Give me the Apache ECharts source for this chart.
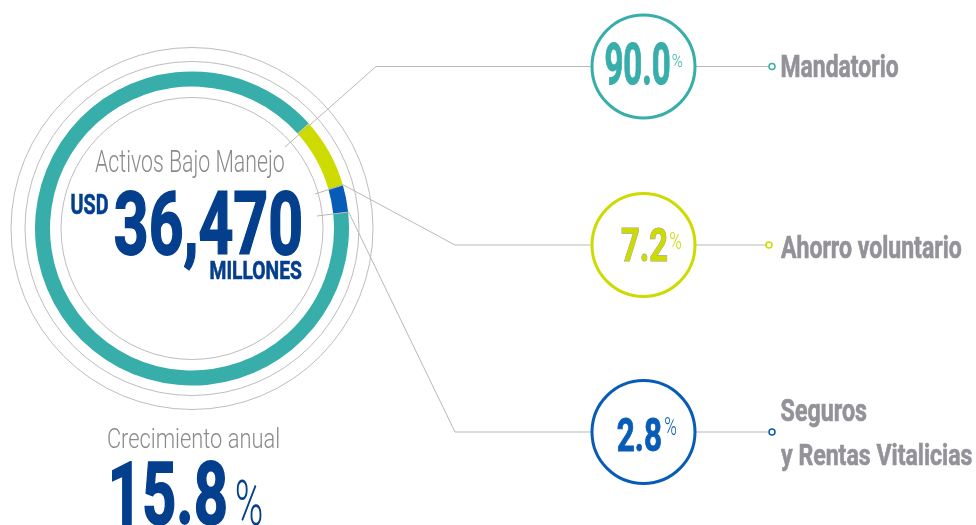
<!DOCTYPE html>
<html lang="es">
<head>
    <meta charset="UTF-8">
    <title>Activos Bajo Manejo</title>
    <script src="https://cdn.jsdelivr.net/npm/echarts@6/dist/echarts.min.js"></script>
    <style>
        html, body { margin: 0; padding: 0; background: #fff; }
        #main { width: 976px; height: 525px; }
    </style>
</head>
<body>
<div id="main"></div>
<script>
    // datos
    var categories = ['Mandatorio', 'Ahorro voluntario', 'Seguros\ny Rentas Vitalicias'];
    var shares = [90.0, 7.2, 2.8];
    var totalAssets = 36470;   // USD millones
    var annualGrowth = 15.8;   // %

    var colors = ['#37aeaa', '#cddb00', '#075cb8'];
    var navy = '#033f8d';
    var grayText = '#939298';
    var lineGray = '#b9b9b9';

    var CX = 192, CY = 228.5;
    var START = 6; // grados, el anillo empieza al final de "Seguros"

    // medir texto para ajustar ancho (fuente condensada simulada con scaleX)
    var meas = document.createElement('canvas').getContext('2d');
    function fitText(str, left, capTop, capH, width, weight, color, extra) {
        // trazo del mismo color para engrosar las letras "bold"
        var lw = 0;
        if (weight === 'bold' && !extra) lw = Math.max(0.6, capH * 0.028);
        var size = (capH - lw) / 0.711;
        var font = weight + ' ' + size.toFixed(2) + 'px Roboto';
        meas.font = font;
        meas.textBaseline = 'middle';
        var m = meas.measureText(str);
        var inkW = m.actualBoundingBoxLeft + m.actualBoundingBoxRight;
        var s = (width - lw) / inkW;
        var capFromMid = meas.measureText('H').actualBoundingBoxAscent;
        var style = { text: str, font: font, fill: color, align: 'left', verticalAlign: 'middle' };
        if (lw) {
            style.stroke = color;
            style.lineWidth = lw;
        }
        if (extra) {
            for (var k in extra) style[k] = extra[k];
        }
        return {
            type: 'text', silent: true, z: 20,
            x: left + lw / 2 + m.actualBoundingBoxLeft * s,
            y: capTop + lw / 2 + capFromMid,
            scaleX: s,
            style: style
        };
    }

    function ringPoint(angleDeg, r) {
        var a = angleDeg * Math.PI / 180;
        return [CX + r * Math.cos(a), CY - r * Math.sin(a)];
    }

    // angulo final de cada porcion (sentido horario desde START)
    var ends = [];
    var acc = 0;
    shares.forEach(function (v) {
        acc += v;
        ends.push(START - acc * 3.6);
    });

    var graphics = [];

    // circulos finos alrededor del anillo
    [181, 167, 131].forEach(function (r) {
        graphics.push({
            type: 'circle', silent: true, z: 1,
            shape: { cx: CX, cy: CY, r: r },
            style: { fill: null, stroke: '#bdbdbd', lineWidth: 1 }
        });
    });

    // filas de la derecha
    var rowY = [66.5, 245, 432];
    var circleX = 643.5, circleR = 51.5;
    var leader = [
        [[285, 147], [376, rowY[0]]],
        [[315, 194], ringPoint(ends[1], 157.5), [455, rowY[1]]],
        [[317, 216], ringPoint(ends[2], 157.5), [455, rowY[2]]]
    ];
    var markerX = [772, 769, 772];

    var pctLayout = [
        { left: 605, top: 42.7, h: 41.3, w: 65, pl: 671.7, pt: 54, ph: 12.7, pw: 11 },
        { left: 621.7, top: 228.3, h: 33.4, w: 45.6, pl: 670, pt: 231.7, ph: 17.6, pw: 11.7 },
        { left: 617, top: 417.3, h: 33.4, w: 44.7, pl: 665, pt: 417.3, ph: 17.7, pw: 11.7 }
    ];
    var labelLayout = [
        [{ left: 781.7, top: 54.5, h: 23, w: 116.7 }],
        [{ left: 780.7, top: 235.7, h: 22.7, w: 181 }],
        [{ left: 781, top: 398.8, h: 22.6, w: 85.7 }, { left: 780.7, top: 443.3, h: 21.5, w: 192 }]
    ];

    shares.forEach(function (v, i) {
        var y = rowY[i];
        var pts = leader[i].concat([[circleX - circleR, y]]);
        graphics.push({
            type: 'polyline', silent: true, z: 10,
            shape: { points: pts },
            style: { fill: null, stroke: lineGray, lineWidth: 1 }
        });
        graphics.push({
            type: 'line', silent: true, z: 10,
            shape: { x1: circleX + circleR, y1: y, x2: markerX[i] - 3, y2: y },
            style: { stroke: lineGray, lineWidth: 1 }
        });
        graphics.push({
            type: 'circle', silent: true, z: 11,
            shape: { cx: circleX, cy: y, r: circleR },
            style: { fill: '#fff', stroke: colors[i], lineWidth: 3 }
        });
        graphics.push({
            type: 'circle', silent: true, z: 11,
            shape: { cx: markerX[i], cy: y, r: 3 },
            style: { fill: '#fff', stroke: colors[i], lineWidth: 1.5 }
        });

        var p = pctLayout[i];
        var extra = i === 1 ? { stroke: '#9d9d9d', lineWidth: 1.2 } : null;
        graphics.push(fitText(v.toFixed(1), p.left, p.top, p.h, p.w, 'bold', colors[i], extra));
        graphics.push(fitText('%', p.pl, p.pt, p.ph, p.pw, '300', colors[i]));

        categories[i].split('\n').forEach(function (line, j) {
            var l = labelLayout[i][j];
            graphics.push(fitText(line, l.left, l.top, l.h, l.w, 'bold', grayText));
        });
    });

    // textos centrales
    graphics.push(fitText('Activos Bajo Manejo', 95, 150, 21.7, 189, '300', '#8b8b8b'));
    graphics.push(fitText('USD', 71, 193.3, 20, 37.3, 'bold', navy));
    graphics.push(fitText(totalAssets.toLocaleString('en-US'), 114.3, 190, 64, 187.4, 'bold', navy));
    graphics.push(fitText('MILLONES', 210, 260.7, 18.7, 91.7, 'bold', navy));
    graphics.push(fitText('Crecimiento anual', 107.7, 427.7, 19.6, 170.6, '300', '#8b8b8b'));
    graphics.push(fitText(annualGrowth.toFixed(1), 111.7, 460, 64, 115, 'bold', navy));
    graphics.push(fitText('%', 236.7, 480, 45, 25, '300', navy));

    var chart = echarts.init(document.getElementById('main'), null, { renderer: 'canvas' });
    chart.setOption({
        backgroundColor: '#fff',
        animation: false,
        tooltip: { show: false },
        series: [{
            type: 'pie',
            center: [CX, CY],
            radius: [142, 157],
            startAngle: START,
            clockwise: true,
            silent: true,
            z: 2,
            label: { show: false },
            labelLine: { show: false },
            emphasis: { disabled: true },
            itemStyle: { borderWidth: 0 },
            data: categories.map(function (c, i) {
                return { name: c, value: shares[i], itemStyle: { color: colors[i] } };
            })
        }],
        graphic: { elements: graphics }
    });
</script>
</body>
</html>
